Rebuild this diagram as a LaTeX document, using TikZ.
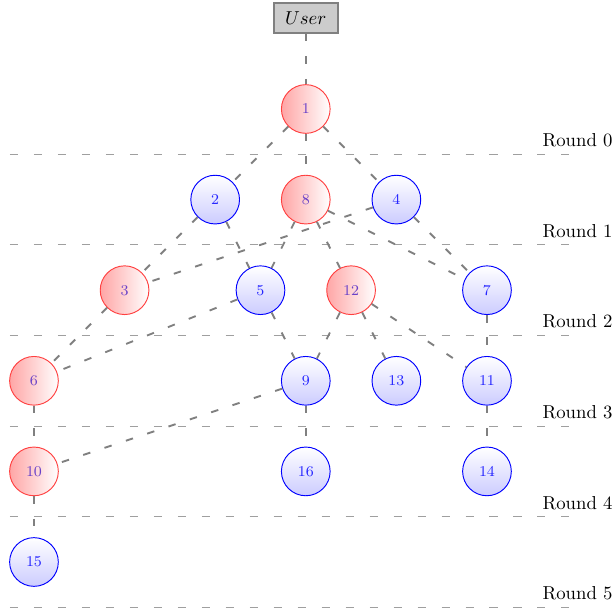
\documentclass[tikz,border=0pt]{standalone}
\begin{document}
\begin{tikzpicture}[x=1.7cm,y=-1.7cm,
  rednode/.style={circle, draw=red!75, line width=0.5pt, left color=red!35, right color=white,
    text={rgb,255:red,105;green,65;blue,200}, minimum size=26pt, inner sep=0pt, font=\footnotesize},
  bluenode/.style={circle, draw=blue, line width=0.5pt, top color=white, bottom color=blue!20,
    text=blue!85, minimum size=26pt, inner sep=0pt, font=\footnotesize},
  userbox/.style={draw=gray, fill=gray!40, line width=1pt, minimum width=1.2cm, minimum height=0.56cm, inner sep=0pt},
  link/.style={draw=gray, line width=1pt, dash pattern=on 4pt off 8pt},
  roundline/.style={draw=gray!75, line width=0.6pt, dash pattern=on 4.3pt off 8.5pt}]
\useasboundingbox (-0.375,-1.203) rectangle (6.402,5.574);

% round separators
\foreach \r in {0,...,5} {
  \draw[roundline] (-0.265,\r+0.5) -- (5.92,\r+0.5);
  \node[above, inner sep=3.6pt] (lbl\r) at (6.0,\r+0.5) {Round \r};
}

% nodes
\node[userbox] (user) at (3,-1.004) {$User$};
\node[rednode] (n1) at (3,0) {1};
\node[bluenode] (n2) at (2,1) {2};
\node[rednode] (n8) at (3,1) {8};
\node[bluenode] (n4) at (4,1) {4};
\node[rednode] (n3) at (1,2) {3};
\node[bluenode] (n5) at (2.5,2) {5};
\node[rednode] (n12) at (3.5,2) {12};
\node[bluenode] (n7) at (5,2) {7};
\node[rednode] (n6) at (0,3) {6};
\node[bluenode] (n9) at (3,3) {9};
\node[bluenode] (n13) at (4,3) {13};
\node[bluenode] (n11) at (5,3) {11};
\node[rednode] (n10) at (0,4) {10};
\node[bluenode] (n16) at (3,4) {16};
\node[bluenode] (n14) at (5,4) {14};
\node[bluenode] (n15) at (0,5) {15};

% links
\foreach \a/\b in {user/n1, n1/n2, n1/n8, n1/n4, n2/n3, n2/n5, n8/n5, n8/n12, n8/n7,
  n4/n3, n4/n7, n3/n6, n5/n6, n5/n9, n12/n9, n12/n13, n12/n11, n7/n11,
  n6/n10, n9/n10, n9/n16, n11/n14, n10/n15}
  \draw[link] (\a) -- (\b);
\end{tikzpicture}
\end{document}
